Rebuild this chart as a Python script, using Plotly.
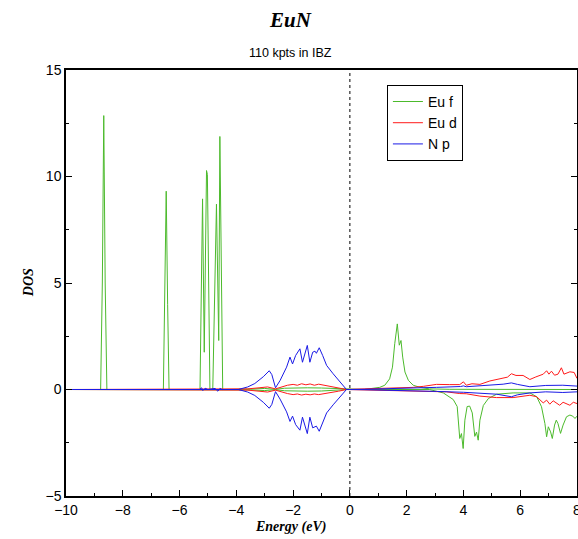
import plotly.graph_objects as go

# ---------------- data ----------------
euf_up_e = [-10, -8.78, -8.72, -8.67, -8.62, -8.56,
            -6.57, -6.52, -6.47, -6.42, -6.37,
            -5.28, -5.19, -5.13, -5.05, -5.02, -4.93, -4.83, -4.72, -4.70, -4.62, -4.58, -4.48,
            -4.0, -3.5, -3.0, -2.62, -2.3, -2.0, -1.5, -1.0, -0.5, -0.1,
            0.5, 1.05, 1.23, 1.40, 1.50, 1.58, 1.67, 1.74, 1.80, 1.86, 1.94, 2.06, 2.23, 2.47, 2.8, 3.5, 8.0]
euf_up_v = [0, 0, 5.0, 12.86, 5.0, 0,
            0, 4.0, 9.31, 4.0, 0,
            0, 8.95, 1.75, 10.28, 10.1, 0, 0, 8.64, 8.7, 2.3, 11.88, 0,
            0.0, 0.02, 0.05, 0.01, 0.06, 0.08, 0.08, 0.07, 0.05, 0.0,
            0.0, 0.1, 0.2, 0.5, 1.05, 2.15, 3.08, 2.08, 2.3, 1.52, 0.82, 0.43, 0.2, 0.1, 0.03, 0.01, 0.0]

euf_dn_e = [-10, -4.0, -3.5, -3.0, -2.62, -2.3, -2.0, -1.5, -1.0, -0.5, -0.1,
            2.8, 3.29, 3.64, 3.78, 3.87, 3.93, 3.99, 4.05, 4.13, 4.22, 4.31, 4.40, 4.46, 4.52, 4.58,
            4.70, 4.88, 5.17, 5.75, 6.34, 6.58, 6.75, 6.87, 6.93, 6.99, 7.07, 7.13, 7.21, 7.27,
            7.33, 7.42, 7.51, 7.63, 7.75, 7.85, 7.93, 8.0]
euf_dn_v = [0, 0.0, -0.02, -0.05, -0.01, -0.06, -0.08, -0.08, -0.07, -0.05, 0.0,
            0.0, -0.16, -0.47, -0.8, -2.3, -2.07, -2.77, -1.44, -0.8, -0.78, -1.1, -2.2, -2.0, -2.38, -1.44,
            -0.75, -0.42, -0.22, -0.16, -0.16, -0.34, -0.81, -1.6, -2.22, -1.75, -1.99, -2.3, -1.67, -1.44,
            -1.6, -2.06, -1.67, -1.28, -1.2, -1.25, -1.36, -1.25]

eud_up_e = [-10, -5.2, -5.0, -4.0, -3.6, -3.2, -2.9, -2.62, -2.4, -2.2, -2.0, -1.85, -1.7, -1.55,
            -1.4, -1.25, -1.1, -0.9, -0.7, -0.4, -0.12,
            0.5, 1.0, 1.7, 2.23, 2.6, 3.05, 3.5, 3.87, 4.0, 4.1, 4.3, 4.58, 4.93, 5.34, 5.55, 5.69,
            5.85, 6.1, 6.34, 6.55, 6.81, 6.93, 7.01, 7.10, 7.21, 7.33, 7.45, 7.54, 7.75, 7.9, 8.0]
eud_up_v = [0, 0.02, 0, 0, 0.03, 0.08, 0.12, 0.03, 0.12, 0.2, 0.24, 0.2, 0.27, 0.22,
            0.26, 0.2, 0.25, 0.2, 0.15, 0.08, 0.0,
            0.03, 0.05, 0.08, 0.1, 0.15, 0.24, 0.23, 0.23, 0.36, 0.2, 0.27, 0.24, 0.4, 0.51, 0.58, 0.74,
            0.66, 0.66, 0.47, 0.59, 0.72, 0.88, 0.72, 0.86, 0.67, 0.72, 1.02, 0.72, 0.83, 0.8, 0.52]

eud_dn_e = [-10, -4.0, -3.6, -3.2, -2.9, -2.62, -2.4, -2.2, -2.0, -1.85, -1.7, -1.55,
            -1.4, -1.25, -1.1, -0.9, -0.7, -0.4, -0.12,
            0.5, 1.5, 2.23, 3.4, 3.87, 4.1, 4.58, 5.17, 5.75, 6.34, 6.58, 6.81, 6.93, 7.04, 7.16,
            7.39, 7.51, 7.75, 7.87, 8.0]
eud_dn_v = [0, 0, -0.03, -0.08, -0.12, -0.03, -0.12, -0.19, -0.24, -0.21, -0.26, -0.22,
            -0.25, -0.21, -0.24, -0.2, -0.15, -0.08, 0.0,
            -0.02, -0.05, -0.06, -0.11, -0.19, -0.2, -0.31, -0.38, -0.38, -0.27, -0.34, -0.63, -0.5, -0.69, -0.53,
            -0.74, -0.6, -0.74, -0.6, -0.66]

np_up_e = [-10, -5.3, -5.22, -5.18, -5.1, -5.0, -4.75, -4.65, -4.58, -4.5,
           -3.93, -3.6, -3.35, -3.05, -2.84, -2.75, -2.62, -2.46, -2.23, -2.11, -2.02, -1.91,
           -1.76, -1.67, -1.50, -1.41, -1.31, -1.23, -1.18, -1.08, -0.96, -0.82, -0.59, -0.35, -0.12,
           0.5, 1.2, 2.23, 3.05, 3.9, 4.0, 4.1, 4.93, 5.4, 5.69, 5.9, 6.34, 6.9, 7.5, 8.0]
np_up_v = [0, 0, 0.08, -0.05, 0.06, 0, 0.05, -0.08, 0.05, 0,
           0, 0.12, 0.28, 0.6, 0.88, 0.7, 0.08, 0.42, 1.05, 1.52, 1.2, 1.6,
           1.91, 1.28, 2.07, 1.28, 1.75, 1.8, 1.7, 1.96, 1.6, 1.13, 0.74, 0.34, 0.0,
           0.01, 0.03, 0.05, 0.1, 0.14, 0.17, 0.13, 0.2, 0.25, 0.31, 0.24, 0.13, 0.19, 0.2, 0.16]

np_dn_e = [-10, -3.93, -3.6, -3.35, -3.05, -2.84, -2.75, -2.62, -2.46, -2.23, -2.11, -2.02, -1.91,
           -1.76, -1.67, -1.50, -1.41, -1.31, -1.23, -1.18, -1.08, -0.96, -0.82, -0.59, -0.35, -0.12,
           0.5, 2.23, 3.05, 4.0, 4.58, 5.17, 5.69, 5.9, 6.34, 6.9, 7.5, 8.0]
np_dn_v = [0, 0, -0.12, -0.28, -0.6, -0.88, -0.7, -0.1, -0.45, -1.05, -1.5, -1.25, -1.65,
           -1.91, -1.3, -2.07, -1.3, -1.8, -1.75, -1.72, -1.96, -1.55, -1.1, -0.72, -0.33, 0.0,
           -0.01, -0.05, -0.09, -0.13, -0.19, -0.22, -0.34, -0.25, -0.16, -0.11, -0.14, -0.11]

x_range = [-10, 8]
y_range = [-5, 15]

GREEN = "#4cba2c"
RED = "#ff1a1a"
BLUE = "#1a1ae6"

fig = go.Figure()
series = [
    ("Eu f", GREEN, euf_up_e, euf_up_v, euf_dn_e, euf_dn_v),
    ("Eu d", RED, eud_up_e, eud_up_v, eud_dn_e, eud_dn_v),
    ("N p", BLUE, np_up_e, np_up_v, np_dn_e, np_dn_v),
]
for name, col, ue, uv, de, dv in series:
    fig.add_trace(go.Scatter(x=ue, y=uv, mode="lines", name=name, legendgroup=name,
                             line=dict(color=col, width=1)))
    fig.add_trace(go.Scatter(x=de, y=dv, mode="lines", name=name, legendgroup=name,
                             showlegend=False, line=dict(color=col, width=1)))

fig.add_shape(type="line", xref="x", yref="paper", x0=0, x1=0, y0=0, y1=1,
              line=dict(color="black", width=1, dash="dot"))

axis_font = dict(family="Liberation Sans, Arial", size=14, color="black")
fig.update_xaxes(range=x_range, tickmode="linear", tick0=-10, dtick=2, ticks="inside", ticklen=6,
                 tickwidth=1, tickcolor="black", showline=True, linecolor="black", linewidth=1.5,
                 mirror=True, showgrid=False, zeroline=False, tickfont=axis_font,
                 ticklabeloverflow="allow", automargin=False,
                 minor=dict(ticks="inside", dtick=1, ticklen=3, tickcolor="black", showgrid=False))
fig.update_yaxes(range=y_range, tickmode="linear", tick0=-5, dtick=5, ticks="inside", ticklen=6,
                 tickwidth=1, tickcolor="black", showline=True, linecolor="black", linewidth=1.5,
                 mirror="ticks", showgrid=False, zeroline=False, tickfont=axis_font,
                 automargin=False,
                 minor=dict(ticks="inside", dtick=2.5, ticklen=3, tickcolor="black", showgrid=False))

serif = "Liberation Serif, Times New Roman"
fig.add_annotation(text="<b><i>EuN</i></b>", xref="paper", yref="paper", x=0.44, y=1.117,
                   yanchor="middle", showarrow=False, font=dict(family=serif, size=21, color="black"))
fig.add_annotation(text="110 kpts in IBZ", xref="paper", yref="paper", x=0.44, y=1.04,
                   yanchor="middle", showarrow=False,
                   font=dict(family="Liberation Sans, Arial", size=12.5, color="black"))
fig.add_annotation(text="<b><i>Energy (eV)</i></b>", xref="paper", yref="paper", x=0.44, y=-0.073,
                   yanchor="middle", showarrow=False, font=dict(family=serif, size=14, color="black"))
fig.add_annotation(text="<b><i>DOS</i></b>", xref="paper", yref="paper", x=-0.074, y=0.5,
                   xanchor="center", yanchor="middle", showarrow=False, textangle=-90,
                   font=dict(family=serif, size=14, color="black"))

fig.update_layout(
    width=578, height=539,
    margin=dict(l=66, r=1, t=70, b=43, autoexpand=False),
    paper_bgcolor="white", plot_bgcolor="white",
    showlegend=True,
    legend=dict(x=0.628, y=0.965, xanchor="left", yanchor="top",
                bgcolor="white", bordercolor="black", borderwidth=1,
                font=dict(family="Liberation Sans, Arial", size=14, color="black"),
                tracegroupgap=0),
)

fig.write_html("out.html")
